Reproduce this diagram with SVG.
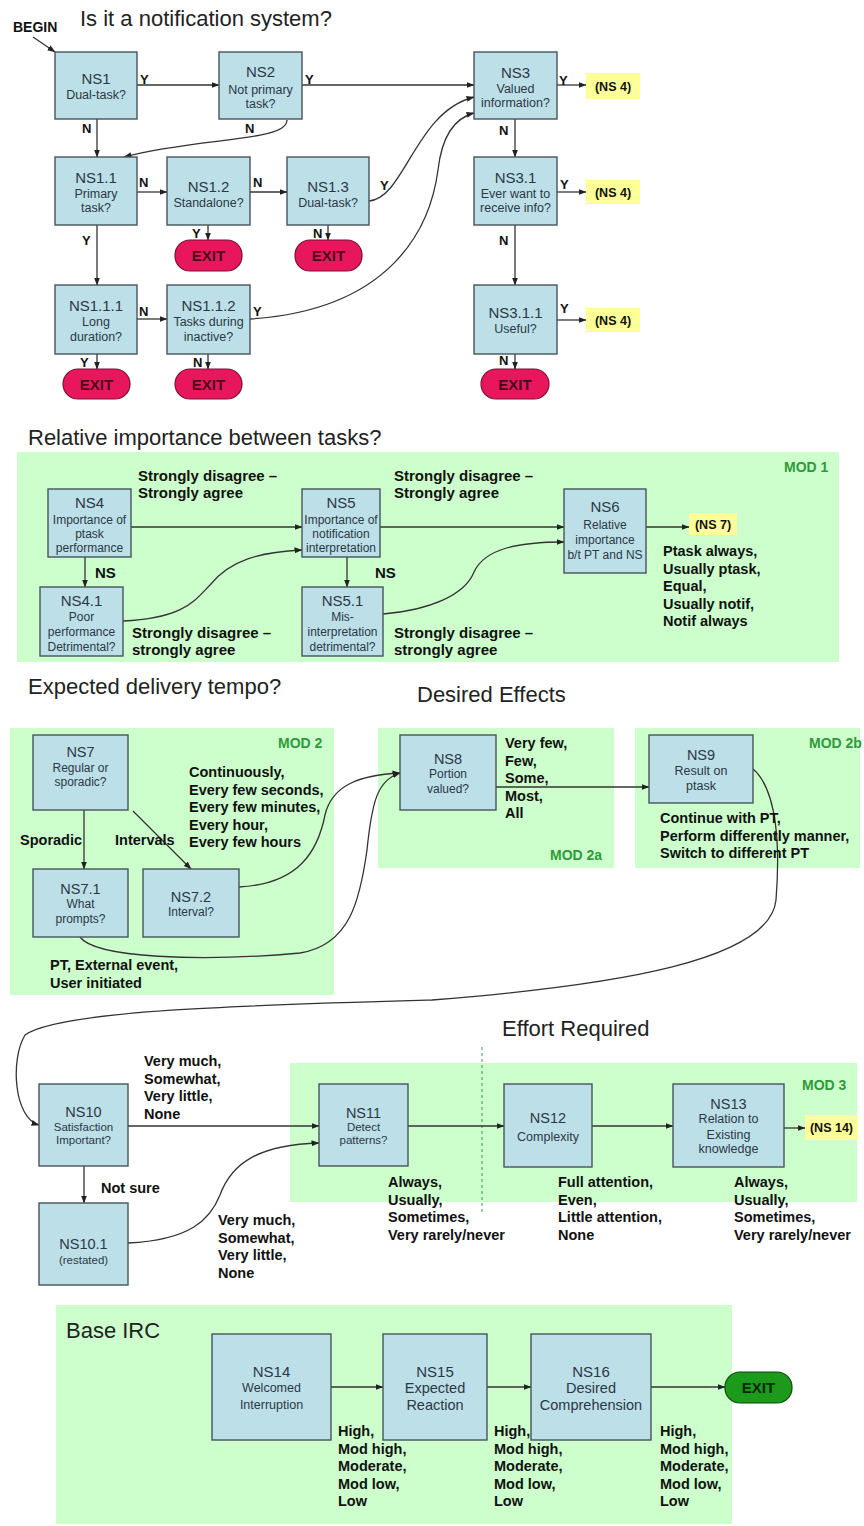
<svg xmlns="http://www.w3.org/2000/svg" width="864" height="1526" viewBox="0 0 864 1526">
<defs>
  <marker id="arr" markerWidth="8" markerHeight="6" refX="7.5" refY="3" orient="auto" markerUnits="userSpaceOnUse">
    <path d="M0,0 L8,3 L0,6 z" fill="#222"/>
  </marker>
  <style>
    text { font-family: "Liberation Sans", Arial, sans-serif; }
    .panel { fill: #ccffcc; }
    .node rect { fill: #bddfe8; stroke: #47545a; stroke-width: 1.4; }
    .node text { text-anchor: middle; fill: #2b3845; }
    .id { font-size: 15px; }
    .sub { font-size: 12.5px; }
    .exit rect { fill: #e8175d; stroke: #7a1030; stroke-width: 1.2; }
    .exit text { text-anchor: middle; font-weight: bold; font-size: 15px; fill: #4a0818; }
    .gexit rect { fill: #1b9a1b; stroke: #0b4a0b; stroke-width: 1.2; }
    .gexit text { text-anchor: middle; font-weight: bold; font-size: 15px; fill: #082808; }
    .goto rect { fill: #ffff99; }
    .goto text { text-anchor: middle; font-weight: bold; font-size: 12.5px; fill: #111; }
    .lbl { font-weight: bold; font-size: 14.5px; fill: #111; }
    .yn { font-weight: bold; font-size: 13px; fill: #111; }
    .mod { font-weight: bold; font-size: 14px; fill: #2f9a3a; }
    .title { font-size: 22px; fill: #222; }
    .edges path { fill: none; stroke: #333; stroke-width: 1.3; marker-end: url(#arr); }
  </style>
</defs>
<rect width="864" height="1526" fill="#ffffff"/>

<!-- section panels -->
<rect class="panel" x="17" y="452" width="822" height="210"/>
<rect class="panel" x="10" y="728" width="324" height="267"/>
<rect class="panel" x="378" y="728" width="236" height="140"/>
<rect class="panel" x="635" y="728" width="225" height="140"/>
<rect class="panel" x="290" y="1063" width="567" height="139"/>
<rect class="panel" x="56" y="1305" width="676" height="219"/>
<line x1="482" y1="1047" x2="482" y2="1212" stroke="#3a9a4a" stroke-width="1" stroke-dasharray="3,3"/>

<!-- headings -->
<text class="title" x="80" y="26">Is it a notification system?</text>
<text class="title" x="28" y="445">Relative importance between tasks?</text>
<text class="title" x="28" y="694">Expected delivery tempo?</text>
<text class="title" x="417" y="702">Desired Effects</text>
<text class="title" x="502" y="1036">Effort Required</text>
<text class="title" x="66" y="1338">Base IRC</text>
<text class="mod" x="784" y="472">MOD 1</text>
<text class="mod" x="278" y="748">MOD 2</text>
<text class="mod" x="550" y="860">MOD 2a</text>
<text class="mod" x="809" y="748">MOD 2b</text>
<text class="mod" x="802" y="1090">MOD 3</text>
<text class="lbl" x="13" y="32" style="font-size:14px">BEGIN</text>

<!-- connectors -->
<g id="connectors" class="edges">
  <path d="M33,37 L55,52"/>
  <path d="M137,85 H219"/>
  <path d="M302,85 H474"/>
  <path d="M557,85 H586"/>
  <path d="M97,119 V157"/>
  <path d="M287,120 C287,142 200,137 124,157"/>
  <path d="M137,192 H167"/>
  <path d="M250,192 H287"/>
  <path d="M369,201 C405,198 415,112 474,97"/>
  <path d="M515,119 V157"/>
  <path d="M557,192 H586"/>
  <path d="M97,225 V285"/>
  <path d="M208,225 V240"/>
  <path d="M328,225 V240"/>
  <path d="M250,319 C390,310 430,230 438,170 C442,135 455,118 474,113"/>
  <path d="M137,319 H167"/>
  <path d="M515,225 V285"/>
  <path d="M557,320 H586"/>
  <path d="M97,354 V369"/>
  <path d="M208,354 V369"/>
  <path d="M515,354 V369"/>

  <path d="M131,527 H302"/>
  <path d="M380,527 H564"/>
  <path d="M646,527 H689"/>
  <path d="M85,557 V587"/>
  <path d="M347,557 V587"/>
  <path d="M123,621 C185,618 195,600 210,585 C230,560 260,552 302,550"/>
  <path d="M383,614 C430,610 465,595 474,572 C485,548 520,542 564,542"/>

  <path d="M84,810 V869"/>
  <path d="M133,811 L191,869"/>
  <path d="M239,887 C300,884 318,850 325,815 C332,785 360,775 400,773"/>
  <path d="M80,937 C95,958 200,962 300,953 C350,945 360,900 367,850 C372,800 378,780 400,773"/>
  <path d="M496,787 H649"/>
  <path d="M753,769 C778,790 780,850 776,900 C770,960 620,985 432,1000 C250,1005 60,1010 25,1035 C10,1060 14,1118 39,1125"/>

  <path d="M128,1126 H319"/>
  <path d="M84,1166 V1203"/>
  <path d="M128,1243 C190,1240 210,1220 220,1195 C232,1162 260,1145 319,1143"/>
  <path d="M408,1126 H504"/>
  <path d="M592,1126 H673"/>
  <path d="M784,1128 H805"/>

  <path d="M331,1387 H383"/>
  <path d="M487,1387 H531"/>
  <path d="M651,1387 H725"/>
</g>

<!-- branch labels, section 1 -->
<g>
  <text class="yn" x="140" y="84">Y</text>
  <text class="yn" x="305" y="84">Y</text>
  <text class="yn" x="559" y="85">Y</text>
  <text class="yn" x="82" y="133">N</text>
  <text class="yn" x="245" y="133">N</text>
  <text class="yn" x="499" y="135">N</text>
  <text class="yn" x="139" y="187">N</text>
  <text class="yn" x="253" y="187">N</text>
  <text class="yn" x="380" y="190">Y</text>
  <text class="yn" x="560" y="189">Y</text>
  <text class="yn" x="192" y="238">Y</text>
  <text class="yn" x="313" y="238">N</text>
  <text class="yn" x="82" y="245">Y</text>
  <text class="yn" x="499" y="245">N</text>
  <text class="yn" x="139" y="316">N</text>
  <text class="yn" x="253" y="316">Y</text>
  <text class="yn" x="560" y="313">Y</text>
  <text class="yn" x="80" y="367">Y</text>
  <text class="yn" x="193" y="367">N</text>
  <text class="yn" x="499" y="365">N</text>
</g>

<!-- section 1 nodes -->
<g id="ns1" class="node"><rect x="55" y="52" width="82" height="67"/><text class="id" x="96" y="84">NS1</text><text class="sub" x="96" y="99">Dual-task?</text></g>
<g id="ns2" class="node"><rect x="219" y="52" width="83" height="67"/><text class="id" x="260.5" y="77">NS2</text><text class="sub" x="260.5" y="94">Not primary</text><text class="sub" x="260.5" y="108">task?</text></g>
<g id="ns3" class="node"><rect x="474" y="52" width="83" height="67"/><text class="id" x="515.5" y="78">NS3</text><text class="sub" x="515.5" y="93">Valued</text><text class="sub" x="515.5" y="107">information?</text></g>
<g id="ns1-1" class="node"><rect x="55" y="157" width="82" height="68"/><text class="id" x="96" y="183">NS1.1</text><text class="sub" x="96" y="198">Primary</text><text class="sub" x="96" y="212">task?</text></g>
<g id="ns1-2" class="node"><rect x="167" y="157" width="83" height="68"/><text class="id" x="208.5" y="192">NS1.2</text><text class="sub" x="208.5" y="207">Standalone?</text></g>
<g id="ns1-3" class="node"><rect x="287" y="157" width="82" height="68"/><text class="id" x="328" y="192">NS1.3</text><text class="sub" x="328" y="207">Dual-task?</text></g>
<g id="ns3-1" class="node"><rect x="474" y="157" width="83" height="68"/><text class="id" x="515.5" y="183">NS3.1</text><text class="sub" x="515.5" y="198">Ever want to</text><text class="sub" x="515.5" y="212">receive info?</text></g>
<g id="ns1-1-1" class="node"><rect x="55" y="285" width="82" height="69"/><text class="id" x="96" y="311">NS1.1.1</text><text class="sub" x="96" y="326">Long</text><text class="sub" x="96" y="341">duration?</text></g>
<g id="ns1-1-2" class="node"><rect x="167" y="285" width="83" height="69"/><text class="id" x="208.5" y="311">NS1.1.2</text><text class="sub" x="208.5" y="326">Tasks during</text><text class="sub" x="208.5" y="341">inactive?</text></g>
<g id="ns3-1-1" class="node"><rect x="474" y="285" width="83" height="69"/><text class="id" x="515.5" y="318">NS3.1.1</text><text class="sub" x="515.5" y="333">Useful?</text></g>

<g id="exit-ns1-2" class="exit"><rect x="175" y="240" width="67" height="31" rx="15"/><text x="208.5" y="261">EXIT</text></g>
<g id="exit-ns1-3" class="exit"><rect x="295" y="240" width="67" height="31" rx="15"/><text x="328.5" y="261">EXIT</text></g>
<g id="exit-ns1-1-1" class="exit"><rect x="63" y="369" width="67" height="30" rx="15"/><text x="96.5" y="389.5">EXIT</text></g>
<g id="exit-ns1-1-2" class="exit"><rect x="175" y="369" width="67" height="30" rx="15"/><text x="208.5" y="389.5">EXIT</text></g>
<g id="exit-ns3-1-1" class="exit"><rect x="481" y="369" width="68" height="30" rx="15"/><text x="515" y="389.5">EXIT</text></g>

<g id="goto-ns4-a" class="goto"><rect x="586" y="73" width="54" height="26"/><text x="613" y="90.5">(NS 4)</text></g>
<g id="goto-ns4-b" class="goto"><rect x="586" y="180" width="54" height="24"/><text x="613" y="196.5">(NS 4)</text></g>
<g id="goto-ns4-c" class="goto"><rect x="586" y="308" width="54" height="24"/><text x="613" y="324.5">(NS 4)</text></g>

<!-- section 2 -->
<g id="ns4" class="node"><rect x="48" y="489" width="83" height="68"/><text class="id" x="89.5" y="508">NS4</text><text class="sub" x="89.5" y="524" style="font-size:12px">Importance of</text><text class="sub" x="89.5" y="538" style="font-size:12px">ptask</text><text class="sub" x="89.5" y="552" style="font-size:12px">performance</text></g>
<g id="ns4-1" class="node"><rect x="40" y="587" width="83" height="69"/><text class="id" x="81.5" y="606">NS4.1</text><text class="sub" x="81.5" y="621" style="font-size:12px">Poor</text><text class="sub" x="81.5" y="636" style="font-size:12px">performance</text><text class="sub" x="81.5" y="651" style="font-size:12px">Detrimental?</text></g>
<g id="ns5" class="node"><rect x="302" y="489" width="78" height="68"/><text class="id" x="341" y="508">NS5</text><text class="sub" x="341" y="524" style="font-size:12px">Importance of</text><text class="sub" x="341" y="538" style="font-size:12px">notification</text><text class="sub" x="341" y="552" style="font-size:12px">interpretation</text></g>
<g id="ns5-1" class="node"><rect x="302" y="587" width="81" height="69"/><text class="id" x="342.5" y="606">NS5.1</text><text class="sub" x="342.5" y="621" style="font-size:12px">Mis-</text><text class="sub" x="342.5" y="636" style="font-size:12px">interpretation</text><text class="sub" x="342.5" y="651" style="font-size:12px">detrimental?</text></g>
<g id="ns6" class="node"><rect x="564" y="489" width="82" height="84"/><text class="id" x="605" y="512">NS6</text><text class="sub" x="605" y="529" style="font-size:12px">Relative</text><text class="sub" x="605" y="544" style="font-size:12px">importance</text><text class="sub" x="605" y="559" style="font-size:12px">b/t PT and NS</text></g>
<g id="goto-ns7" class="goto"><rect x="689" y="513" width="48" height="22"/><text x="713" y="528.5">(NS 7)</text></g>

<g class="lbl" style="font-size:15px">
  <text x="138" y="481">Strongly disagree –</text>
  <text x="138" y="498">Strongly agree</text>
  <text x="394" y="481">Strongly disagree –</text>
  <text x="394" y="498">Strongly agree</text>
  <text x="95" y="578">NS</text>
  <text x="375" y="578">NS</text>
  <text x="132" y="638">Strongly disagree –</text>
  <text x="132" y="655">strongly agree</text>
  <text x="394" y="638">Strongly disagree –</text>
  <text x="394" y="655">strongly agree</text>
</g>
<g class="lbl">
  <text x="663" y="556">Ptask always,</text>
  <text x="663" y="573.5">Usually ptask,</text>
  <text x="663" y="591">Equal,</text>
  <text x="663" y="608.5">Usually notif,</text>
  <text x="663" y="626">Notif always</text>
</g>

<!-- section 3 -->
<g id="ns7" class="node"><rect x="33" y="735" width="95" height="75"/><text class="id" x="80.5" y="757" style="font-size:14.5px">NS7</text><text class="sub" x="80.5" y="772" style="font-size:12px">Regular or</text><text class="sub" x="80.5" y="786" style="font-size:12px">sporadic?</text></g>
<g id="ns7-1" class="node"><rect x="33" y="869" width="95" height="68"/><text class="id" x="80.5" y="894" style="font-size:14.5px">NS7.1</text><text class="sub" x="80.5" y="908" style="font-size:12px">What</text><text class="sub" x="80.5" y="923" style="font-size:12px">prompts?</text></g>
<g id="ns7-2" class="node"><rect x="143" y="869" width="96" height="68"/><text class="id" x="191" y="902" style="font-size:14.5px">NS7.2</text><text class="sub" x="191" y="916" style="font-size:12px">Interval?</text></g>
<g id="ns8" class="node"><rect x="400" y="735" width="96" height="75"/><text class="id" x="448" y="764" style="font-size:14.5px">NS8</text><text class="sub" x="448" y="778" style="font-size:12px">Portion</text><text class="sub" x="448" y="793" style="font-size:12px">valued?</text></g>
<g id="ns9" class="node"><rect x="649" y="735" width="104" height="68"/><text class="id" x="701" y="760" style="font-size:14.5px">NS9</text><text class="sub" x="701" y="775" style="font-size:12.5px">Result on</text><text class="sub" x="701" y="790" style="font-size:12.5px">ptask</text></g>

<g class="lbl">
  <text x="20" y="845">Sporadic</text>
  <text x="115" y="845">Intervals</text>
  <text x="189" y="777">Continuously,</text>
  <text x="189" y="794.5">Every few seconds,</text>
  <text x="189" y="812">Every few minutes,</text>
  <text x="189" y="829.5">Every hour,</text>
  <text x="189" y="847">Every few hours</text>
  <text x="50" y="970">PT, External event,</text>
  <text x="50" y="988">User initiated</text>
  <text x="505" y="748">Very few,</text>
  <text x="505" y="765.5">Few,</text>
  <text x="505" y="783">Some,</text>
  <text x="505" y="800.5">Most,</text>
  <text x="505" y="818">All</text>
  <text x="660" y="823">Continue with PT,</text>
  <text x="660" y="840.5">Perform differently manner,</text>
  <text x="660" y="858">Switch to different PT</text>
</g>

<!-- section 4 -->
<g id="ns10" class="node"><rect x="39" y="1084" width="89" height="82"/><text class="id" x="83.5" y="1117" style="font-size:14.5px">NS10</text><text class="sub" x="83.5" y="1131" style="font-size:11.5px">Satisfaction</text><text class="sub" x="83.5" y="1144" style="font-size:11.5px">Important?</text></g>
<g id="ns10-1" class="node"><rect x="39" y="1203" width="89" height="82"/><text class="id" x="83.5" y="1249" style="font-size:14.5px">NS10.1</text><text class="sub" x="83.5" y="1264" style="font-size:11.5px">(restated)</text></g>
<g id="ns11" class="node"><rect x="319" y="1084" width="89" height="82"/><text class="id" x="363.5" y="1118" style="font-size:14.5px">NS11</text><text class="sub" x="363.5" y="1131" style="font-size:11.5px">Detect</text><text class="sub" x="363.5" y="1144" style="font-size:11.5px">patterns?</text></g>
<g id="ns12" class="node"><rect x="504" y="1084" width="88" height="83"/><text class="id" x="548" y="1123" style="font-size:14.5px">NS12</text><text class="sub" x="548" y="1141" style="font-size:12.5px">Complexity</text></g>
<g id="ns13" class="node"><rect x="673" y="1084" width="111" height="83"/><text class="id" x="728.5" y="1109" style="font-size:14.5px">NS13</text><text class="sub" x="728.5" y="1123" style="font-size:12.5px">Relation to</text><text class="sub" x="728.5" y="1139" style="font-size:12.5px">Existing</text><text class="sub" x="728.5" y="1153" style="font-size:12.5px">knowledge</text></g>
<g id="goto-ns14" class="goto"><rect x="805" y="1115" width="53" height="25"/><text x="831.5" y="1132">(NS 14)</text></g>

<g class="lbl">
  <text x="144" y="1066">Very much,</text>
  <text x="144" y="1083.5">Somewhat,</text>
  <text x="144" y="1101">Very little,</text>
  <text x="144" y="1118.5">None</text>
  <text x="101" y="1193">Not sure</text>
  <text x="218" y="1225">Very much,</text>
  <text x="218" y="1242.5">Somewhat,</text>
  <text x="218" y="1260">Very little,</text>
  <text x="218" y="1277.5">None</text>
  <text x="388" y="1187">Always,</text>
  <text x="388" y="1204.5">Usually,</text>
  <text x="388" y="1222">Sometimes,</text>
  <text x="388" y="1239.5">Very rarely/never</text>
  <text x="558" y="1187">Full attention,</text>
  <text x="558" y="1204.5">Even,</text>
  <text x="558" y="1222">Little attention,</text>
  <text x="558" y="1239.5">None</text>
  <text x="734" y="1187">Always,</text>
  <text x="734" y="1204.5">Usually,</text>
  <text x="734" y="1222">Sometimes,</text>
  <text x="734" y="1239.5">Very rarely/never</text>
</g>

<!-- section 5 -->
<g id="ns14" class="node"><rect x="212" y="1334" width="119" height="106"/><text class="id" x="271.5" y="1377">NS14</text><text class="sub" x="271.5" y="1392" style="font-size:12.5px">Welcomed</text><text class="sub" x="271.5" y="1409" style="font-size:12.5px">Interruption</text></g>
<g id="ns15" class="node"><rect x="383" y="1334" width="104" height="106"/><text class="id" x="435" y="1377">NS15</text><text class="sub" x="435" y="1393" style="font-size:14.5px">Expected</text><text class="sub" x="435" y="1410" style="font-size:14.5px">Reaction</text></g>
<g id="ns16" class="node"><rect x="531" y="1334" width="120" height="106"/><text class="id" x="591" y="1377">NS16</text><text class="sub" x="591" y="1393" style="font-size:14.5px">Desired</text><text class="sub" x="591" y="1410" style="font-size:14.5px">Comprehension</text></g>
<g id="exit-final" class="gexit"><rect x="725" y="1372" width="67" height="31" rx="15"/><text x="758.5" y="1393">EXIT</text></g>

<g class="lbl">
  <text x="338" y="1436">High,</text>
  <text x="338" y="1453.5">Mod high,</text>
  <text x="338" y="1471">Moderate,</text>
  <text x="338" y="1488.5">Mod low,</text>
  <text x="338" y="1506">Low</text>
  <text x="494" y="1436">High,</text>
  <text x="494" y="1453.5">Mod high,</text>
  <text x="494" y="1471">Moderate,</text>
  <text x="494" y="1488.5">Mod low,</text>
  <text x="494" y="1506">Low</text>
  <text x="660" y="1436">High,</text>
  <text x="660" y="1453.5">Mod high,</text>
  <text x="660" y="1471">Moderate,</text>
  <text x="660" y="1488.5">Mod low,</text>
  <text x="660" y="1506">Low</text>
</g>
</svg>
